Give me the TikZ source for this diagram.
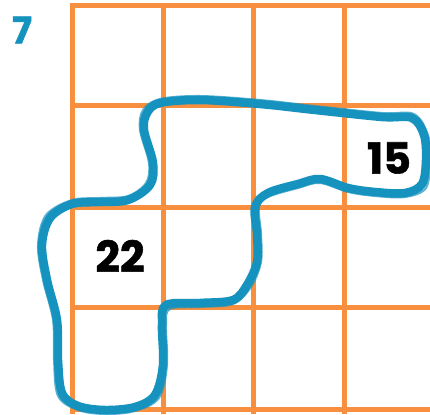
\documentclass[tikz,border=0pt]{standalone}
\usepackage{fontspec}
\setmainfont{Poppins}
\newfontfamily\heavy{Poppins}[BoldFeatures={FakeBold=1.3}]
\definecolor{gridor}{HTML}{F78F3F}
\definecolor{loopblue}{HTML}{1592BE}
\begin{document}
\begin{tikzpicture}[x=1pt,y=-1pt,
  gridline/.style={draw=gridor,line width=5pt},
  loopline/.style={draw=loopblue,line width=8.5pt,line join=round,line cap=round},
  num/.style={font=\heavy\fontsize{43}{43}\selectfont\bfseries,text=black,inner sep=0pt}]
\useasboundingbox (0,0) rectangle (430,414);
\fill[white] (0,0) rectangle (430,414);
% grid
\foreach \x in {72,163,253,344} \draw[gridline] (\x,3) -- (\x,414);
\foreach \y in {6,106,207,307,409} \draw[gridline] (69.5,\y) -- (430,\y);
% loop
\draw[loopline] plot[smooth cycle,tension=0.55] coordinates {
 (160,103) (200,100) (260,104) (315,110) (382,117) (412,118) (424,135) (426,160) (422,184)
 (405,193) (375,192) (348,188) (320,179) (298,184) (268,193) (255,207) (257,234)
 (257,262) (247,285) (233,300) (200,303) (166,305) (162,325) (163,365) (155,395)
 (135,407) (105,410) (78,406) (62,393) (58,360) (57,320) (47,280) (42,245)
 (50,218) (72,204) (100,202) (128,200) (150,185) (153,163) (144,130) (147,113)};
\draw[draw=loopblue,line width=2pt,opacity=0.7] plot[smooth cycle,tension=0.55] coordinates {
 (160,99) (200,96) (260,100) (315,106) (382,113) (414,114) (428,135) (430,160) (426,188)
 (405,197) (375,196) (348,192) (320,183) (298,188) (268,197) (259,207) (261,234)
 (261,262) (251,287) (233,304) (200,307) (170,309) (166,325) (167,365) (159,398)
 (135,411) (105,414) (78,410) (58,396) (54,360) (53,320) (43,280) (38,245)
 (46,215) (72,200) (100,198) (128,196) (146,183) (149,163) (140,130) (143,110)};
% labels
\node[font=\heavy\fontsize{37}{37}\selectfont\bfseries,text=loopblue,inner sep=0pt] (seven) at (22,30) {7};
\node[num] (a) at (120,256) {22};
\node[num] (b) at (389,158) {15};
\end{tikzpicture}
\end{document}
